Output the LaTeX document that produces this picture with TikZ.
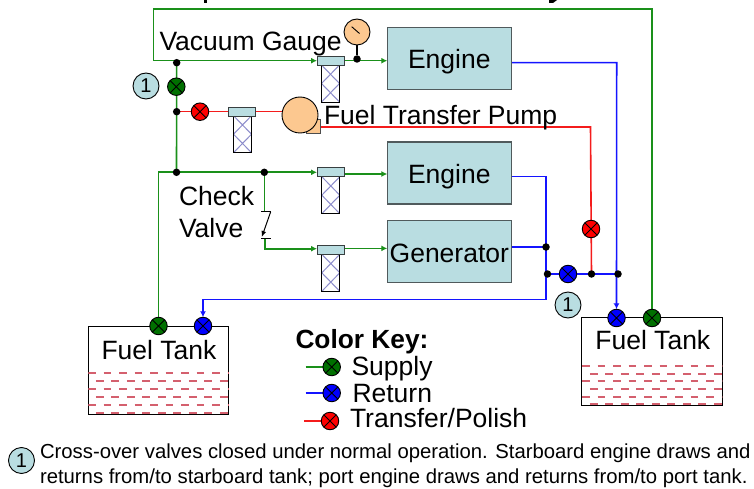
\documentclass[tikz,border=0pt]{standalone}
\usepackage{fontspec}
\setmainfont{Liberation Sans}
\usetikzlibrary{arrows.meta,backgrounds}
\definecolor{capfill}{HTML}{B9DDE1}
\definecolor{peach}{HTML}{FCC890}
\definecolor{meshc}{HTML}{8C8CCB}
\definecolor{gline}{HTML}{1A901A}
\definecolor{gfill}{HTML}{007000}
\definecolor{bline}{HTML}{1414FF}
\definecolor{rline}{HTML}{F41C1C}
\definecolor{water}{HTML}{D4606E}
\definecolor{edge}{HTML}{505A5C}
\tikzset{
  x=1pt,y=-1pt,
  every node/.style={inner sep=0pt,outer sep=0pt},
  valve/.style={circle,draw=black,line width=0.9pt,minimum size=17.5pt,
    path picture={\draw[black,line width=0.9pt]
      (path picture bounding box.north west)--(path picture bounding box.south east)
      (path picture bounding box.north east)--(path picture bounding box.south west);}},
  vg/.style={valve,fill=gfill},
  vb/.style={valve,fill=blue},
  vr/.style={valve,fill=red},
  jdot/.style={circle,fill=black,minimum size=7.5pt},
  numnote/.style={circle,draw=black,line width=0.9pt,fill=capfill,minimum size=26pt,font=\fontsize{20}{20}\selectfont},
  unitbox/.style={rectangle,draw=edge,line width=1.3pt,fill=capfill,minimum width=124pt,minimum height=62pt,font=\fontsize{26.5}{26.5}\selectfont,text height=21pt,text depth=0pt},
  filtercap/.style={rectangle,draw=edge!70!black,line width=1pt,fill=capfill,minimum width=27pt,minimum height=9pt},
  filtermesh/.style={rectangle,draw=black,line width=0.9pt,fill=white,minimum width=18pt,minimum height=37pt,anchor=north,
    path picture={\draw[meshc,line width=1pt]
      (path picture bounding box.north west)--(path picture bounding box.east)--(path picture bounding box.south west)
      (path picture bounding box.north east)--(path picture bounding box.west)--(path picture bounding box.south east);}},
  tankbox/.style={rectangle,draw=black,line width=1pt,fill=white,minimum width=140.5pt,minimum height=88pt},
  lab/.style={font=\fontsize{26.5}{26.5}\selectfont,anchor=base west},
  labc/.style={font=\fontsize{26.5}{26.5}\selectfont,anchor=base},
  foottxt/.style={font=\fontsize{20.3}{20.3}\selectfont,anchor=base west},
  supplyline/.style={draw=gline,line width=1.6pt},
  returnline/.style={draw=bline,line width=1.6pt},
  transline/.style={draw=rline,line width=1.6pt},
  arrowed/.style={-{Latex[length=6pt,width=6pt]}},
  waterline/.style={draw=water,line width=2pt,dash pattern=on 7.75pt off 7.75pt},
}
\begin{document}
\begin{tikzpicture}
\useasboundingbox (0,0) rectangle (754,489);
% clipped remains of a title above the frame
\fill[black] (203.5,0) rectangle (207,3);
\fill[black] (549,3) -- (553,3) -- (557,0) -- (549,0) -- cycle;
% tanks
\node[tankbox] (tankL) at (158.5,370) {};
\node[tankbox] (tankR) at (652,361.5) {};
\begin{scope}
\clip (tankL.north west) rectangle (tankL.south east);
\foreach \yy/\ph in {373/0,381/7.75,389/0,397/7.75,405/0,413/7.75}
  \draw[waterline,dash phase=\ph pt] (88,\yy) -- (229,\yy);
\end{scope}
\begin{scope}
\clip (tankR.north west) rectangle (tankR.south east);
\foreach \yy/\ph in {366/0,374/7.75,381/0,389/7.75,397/0,404/7.75}
  \draw[waterline,dash phase=\ph pt] (582,\yy) -- (722,\yy);
\end{scope}
\node[labc] (tankLt) at (159,359) {Fuel Tank};
\node[labc] (tankRt) at (652.8,349.3) {Fuel Tank};
% equipment
\node[unitbox] (eng1) at (449.3,58.2) {Engine};
\node[unitbox] (eng2) at (449.3,173) {Engine};
\node[unitbox] (gen) at (449.3,251.8) {Generator};
% filters
\node[filtermesh] (m1) at (330.5,65) {};
\node[filtercap] (f1) at (330.5,60.7) {};
\node[filtermesh] (m2) at (242.5,115.7) {};
\node[filtercap] (f2) at (242.3,111.7) {};
\node[filtermesh] (m3) at (330.8,176.7) {};
\node[filtercap] (f3) at (330.5,172.3) {};
\node[filtermesh] (m4) at (330.8,254.3) {};
\node[filtercap] (f4) at (330.5,249.8) {};
% gauge and pump
\node[circle,draw=black,line width=0.9pt,fill=peach,minimum size=26pt] (gauge) at (357,32) {};
\node[jdot] (dgauge) at (357,59) {};
\draw[line width=1.8pt] (gauge) -- (dgauge);
\draw[line width=0.9pt] (351.7,26.7) -- (359.5,33.5);
\node[rectangle,draw=black!70,line width=0.9pt,fill=peach,minimum size=14pt] (pumpout) at (313,126.5) {};
\node[circle,draw=black,line width=0.9pt,fill=peach,minimum size=36pt] (pump) at (300,115) {};
% junctions
\node[jdot] (j1) at (176.7,62.7) {};
\node[jdot] (j2) at (176.7,111.7) {};
\node[jdot] (j3) at (176.5,172.3) {};
\node[jdot] (j4) at (264.3,172.3) {};
\node[jdot] (j5) at (546,247) {};
\node[jdot] (j6) at (547.5,274) {};
\node[jdot] (j7) at (591.5,274) {};
\node[jdot] (j8) at (618,274) {};
% valves
\node[vg] (v1) at (176.3,86.7) {};
\node[vr] (v2) at (200,111.7) {};
\node[vr] (v3) at (591,229) {};
\node[vb] (v4) at (568,274) {};
\node[vb] (v5) at (616.5,318) {};
\node[vg] (v6) at (652,318) {};
\node[vg] (v7) at (158.5,326) {};
\node[vb] (v8) at (203,326) {};
% notes
\node[numnote] (n1) at (146,86) {1};
\node[numnote] (n2) at (568,305) {1};
\node[numnote] (n3) at (21.5,460.5) {1};
% free corners
\coordinate (g1) at (652,9);
\coordinate (g2) at (153.3,9);
\coordinate (g3) at (153.3,60.7);
\coordinate (g4) at (158.5,172.3);
\coordinate (cvt) at (264.3,211.7);
\coordinate (cvb) at (264.7,238.3);
\coordinate (c5) at (264.7,248.7);
\coordinate (b1) at (616.7,62.7);
\coordinate (b2) at (545.7,176.7);
\coordinate (b3) at (545.7,299.5);
\coordinate (b4) at (203,299.5);
\coordinate (r1) at (590.5,127);
\begin{scope}[on background layer]
\draw[supplyline,arrowed] (v6.center) -- (g1) -- (g2) -- (g3) -- (f1.west);
\draw[supplyline] (j1.center) -- (j3.center);
\draw[supplyline,arrowed] (v7.center) -- (g4) -- (f3.west);
\draw[supplyline,arrowed] (f1.east) -- (eng1.west |- f1.east);
\draw[supplyline,arrowed] (344,174) -- (eng2.west |- 0,174);
\draw[supplyline] (j4.center) -- (cvt);
\draw[supplyline,arrowed] (cvb) -- (c5) -- (f4.west |- c5);
\draw[supplyline,arrowed] (344,248.4) -- (gen.west |- 0,248.4);
\draw[returnline,arrowed] (eng1.east |- b1) -- (b1) -- (v5.north);
\draw[returnline] (eng2.east |- b2) -- (b2) -- (b3);
\draw[returnline,arrowed] (b3) -- (b4) -- (v8.north);
\draw[returnline] (gen.east |- j5) -- (j5.center);
\draw[returnline] (j6.center) -- (j8.center);
\draw[transline] (j2.center) -- (f2.west);
\draw[transline] (f2.east) -- (pump.center |- f2.east);
\draw[transline] (pumpout.center |- r1) -- (r1) -- (j7.center);
\end{scope}
% check valve
\draw[line width=1pt] (261.3,211.7) -- (270.7,211.7);
\draw[line width=1pt] (261,238.3) -- (271,238.3);
\draw[line width=1pt,-{Latex[length=6pt,width=5pt]}] (270.7,211.7) -- (261.8,237);
% labels
\node[lab] (tvac) at (159.5,50.3) {Vacuum Gauge};
\node[lab] (tpump) at (324,125) {Fuel Transfer Pump};
\node[lab] (tchk) at (179,205.3) {Check};
\node[lab] (tval) at (179,237.7) {Valve};
% key
\node[font=\fontsize{26.3}{26.3}\bfseries\selectfont,anchor=base west] (kt) at (295.5,348) {Color Key:};
\node[vg] (k1) at (331.7,367) {};
\node[vb] (k2) at (331.7,393) {};
\node[vr] (k3) at (330,421) {};
\coordinate (k1a) at (305.5,367);
\coordinate (k2a) at (305.5,393);
\coordinate (k3a) at (304,421);
\begin{scope}[on background layer]
\draw[supplyline] (k1a) -- (k1);
\draw[returnline] (k2a) -- (k2);
\draw[transline] (k3a) -- (k3);
\end{scope}
\node[lab] (kt1) at (351.5,375) {Supply};
\node[lab] (kt2) at (352.5,402.7) {Return};
\node[lab] (kt3) at (350,427.7) {Transfer/Polish};
% footnote
\node[foottxt] (ft1) at (40,458.3) {Cross-over valves closed under normal operation. Starboard engine draws and};
\node[foottxt] (ft2) at (40,483.5) {returns from/to starboard tank; port engine draws and returns from/to port tank.};
\end{tikzpicture}
\end{document}
